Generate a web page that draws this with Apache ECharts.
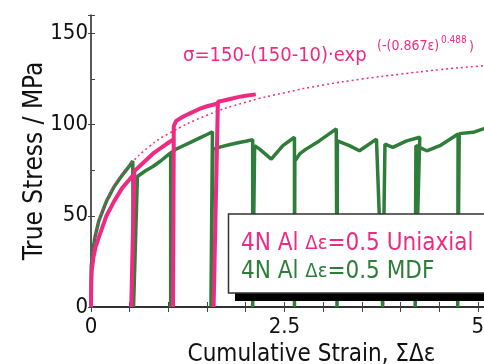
<!DOCTYPE html>
<html>
<head>
<meta charset="utf-8">
<script src="https://cdn.jsdelivr.net/npm/echarts@6/dist/echarts.min.js"></script>
<style>html,body{margin:0;padding:0;background:#fff}#c{width:484px;height:364px}</style>
</head>
<body>
<div id="c"></div>
<script>
// ---- data ----
var xTickLabels = [0, 2.5, 5];
var yTickLabels = [0, 50, 100, 150];

// dotted fit curve sigma=150-(150-10)exp(-(0.867e)^0.488), values read at sample strains
var fitStrain = [0, 0.02, 0.05, 0.1, 0.2, 0.3, 0.4, 0.5, 0.75, 1, 1.5, 2, 2.5, 3, 3.5, 4, 4.5, 5, 5.5];
var fitStress = [10, 28.1, 37.2, 46.6, 58.5, 66.6, 72.9, 78.0, 87.8, 94.9, 105.1, 112.2, 117.4, 121.6, 124.9, 127.6, 130.0, 131.9, 133.6];

// 4N Al uniaxial (pink)
var uniStrain = [0, 0.004, 0.01, 0.03, 0.06, 0.1, 0.15, 0.2, 0.3, 0.4, 0.5, 0.56, 0.52, 0.56, 0.6, 0.7, 0.8, 0.9, 1.0, 1.07, 1.06, 1.07, 1.1, 1.2, 1.3, 1.4, 1.5, 1.64, 1.585, 1.64, 1.7, 1.8, 1.9, 2.0, 2.13];
var uniStress = [0, 14, 20, 27, 33, 38, 44, 50, 58, 65, 70, 73, 0, 74.5, 76, 80, 84, 87, 90, 92, 0, 99, 102, 104.5, 106.5, 108.5, 110, 111.5, 0, 112.5, 113, 114, 115, 115.8, 116.5];

// 4N Al MDF (green)
var mdfStrain = [0, 0.003, 0.02, 0.05, 0.1, 0.2, 0.3, 0.4, 0.5, 0.54, 0.55, 0.6, 0.65, 0.7, 0.8, 0.9, 1.0, 1.03, 1.03, 1.035, 1.1, 1.2, 1.3, 1.4, 1.5, 1.57, 1.55, 1.575, 1.6, 1.7, 1.8, 1.9, 2.0, 2.09, 2.09, 2.115, 2.18, 2.33, 2.48, 2.63, 2.63, 2.635, 2.7, 2.78, 2.95, 3.17, 3.18, 3.185, 3.34, 3.47, 3.69, 3.77, 3.8, 3.9, 4.08, 4.25, 4.19, 4.2, 4.34, 4.51, 4.745, 4.74, 4.76, 4.94, 5.07, 5.2];
var mdfStress = [0, 22, 30, 38, 47, 58, 66, 72, 77.5, 80, 0, 71.5, 73, 74.5, 77, 80, 83.5, 84.5, 0, 84.5, 86.5, 88.5, 90.5, 92.5, 94.5, 96, 0, 86.5, 87, 88, 89, 90, 90.8, 91.7, 0, 88.4, 86.5, 81, 88.4, 93, 0, 80, 84, 86.5, 91, 97.6, 0, 91, 88.4, 85.6, 92, 0, 89.3, 87.5, 91, 93, 0, 88.4, 85.6, 88.4, 94.8, 0, 95, 95.7, 97.6, 98.5];

var uniName = '4N Al Δε=0.5 Uniaxial';
var mdfName = '4N Al Δε=0.5 MDF';

// ---- chart ----
var PINK = '#ee2b82', GREEN = '#2f7d3a';
var FONT = "'DejaVu Sans Condensed', 'DejaVu Sans', sans-serif";
function zip(a, b) { return a.map(function (v, i) { return [v, b[i]]; }); }
function showLabel(list) { return function (v) { return list.indexOf(+(+v).toFixed(3)) >= 0 ? String(v) : ''; }; }
function richFor(c) {
  return { t: { color: c, fontSize: 24, lineHeight: 27, fontFamily: FONT }, g: { color: c, fontSize: 20, lineHeight: 27, fontFamily: FONT } };
}

var chart = echarts.init(document.getElementById('c'), null, { renderer: 'canvas' });
chart.setOption({
  animation: false,
  textStyle: { fontFamily: FONT },
  grid: { left: 91, top: 15, right: 0, bottom: 57, outerBoundsMode: 'none', containLabel: false },
  xAxis: [{
    type: 'value', min: 0, max: 5.08, interval: 0.5, position: 'bottom',
    axisLine: { lineStyle: { color: '#777', width: 1.5 } },
    axisTick: { inside: true, length: 5, lineStyle: { color: '#444' } },
    axisLabel: { formatter: showLabel(xTickLabels), fontSize: 22, color: '#111', margin: 9, fontFamily: FONT, showMaxLabel: false },
    splitLine: { show: false },
    name: 'Cumulative Strain, ΣΔε', nameLocation: 'middle', nameGap: 32,
    nameTextStyle: { fontSize: 24, color: '#111', fontFamily: FONT, padding: [0, 0, 0, 48] }
  }, {
    type: 'value', min: 0, max: 5.08, interval: 0.5, position: 'top',
    axisLine: { lineStyle: { color: '#111', width: 1.5 } },
    axisTick: { inside: true, length: 5, lineStyle: { color: '#444' } },
    axisLabel: { show: false }, splitLine: { show: false }
  }],
  yAxis: [{
    type: 'value', min: 0, max: 160, interval: 25, position: 'left',
    axisLine: { lineStyle: { color: '#222', width: 1.5 } },
    axisTick: { inside: true, length: 4, lineStyle: { color: '#444' } },
    axisLabel: { formatter: showLabel(yTickLabels), fontSize: 22, color: '#111', margin: 3, fontFamily: FONT },
    splitLine: { show: false },
    name: 'True Stress / MPa', nameLocation: 'middle', nameGap: 43, nameMoveOverlap: false,
    nameTextStyle: { fontSize: 26, color: '#111', fontFamily: FONT }
  }, {
    type: 'value', min: 0, max: 160, interval: 50, position: 'left',
    axisLine: { show: false },
    axisTick: { inside: false, length: 3, lineStyle: { color: '#444' } },
    axisLabel: { show: false }, splitLine: { show: false }
  }],
  legend: {
    left: 228, top: 214, orient: 'vertical', selectedMode: false, z: 8,
    itemWidth: 0, itemHeight: 0, itemGap: 4,
    padding: [18, 10, 10, 8],
    formatter: function (name) {
      var parts = name.split('Δε');
      return '{t|' + parts[0] + '}{g|Δε}{t|' + parts[1] + '}';
    },
    data: [
      { name: uniName, icon: 'none', textStyle: { color: PINK, rich: richFor(PINK) } },
      { name: mdfName, icon: 'none', textStyle: { color: GREEN, rich: richFor(GREEN) } }
    ]
  },
  graphic: [
    { type: 'rect', z: 6, shape: { x: 235, y: 222, width: 320, height: 79 }, style: { fill: '#000' } },
    { type: 'rect', z: 7, shape: { x: 228.5, y: 214, width: 320, height: 79 }, style: { fill: '#fff', stroke: '#333', lineWidth: 1.5 } },
    { type: 'text', x: 183, y: 56, style: { text: 'σ=150-(150-10)·exp', fill: PINK, font: '20px ' + FONT, verticalAlign: 'middle' } },
    { type: 'text', x: 377, y: 46.5, style: { text: '(-(0.867ε)', fill: PINK, font: '14px ' + FONT, verticalAlign: 'middle' } },
    { type: 'text', x: 441, y: 40.5, style: { text: '0.488', fill: PINK, font: '10px ' + FONT, verticalAlign: 'middle' } },
    { type: 'text', x: 469, y: 47.5, style: { text: ')', fill: PINK, font: '14px ' + FONT, verticalAlign: 'middle' } }
  ],
  series: [{
    name: mdfName, type: 'line', data: zip(mdfStrain, mdfStress), showSymbol: false, symbol: 'none',
    lineStyle: { color: GREEN, width: 3.5 }, itemStyle: { color: GREEN }, z: 2
  }, {
    name: 'fit', type: 'line', data: zip(fitStrain, fitStress), showSymbol: false, symbol: 'none', smooth: true,
    lineStyle: { color: PINK, width: 1.5, type: [2, 3] }, z: 3
  }, {
    name: uniName, type: 'line', data: zip(uniStrain, uniStress), showSymbol: false, symbol: 'none',
    lineStyle: { color: PINK, width: 4 }, itemStyle: { color: PINK }, z: 4
  }]
});
</script>
</body>
</html>
